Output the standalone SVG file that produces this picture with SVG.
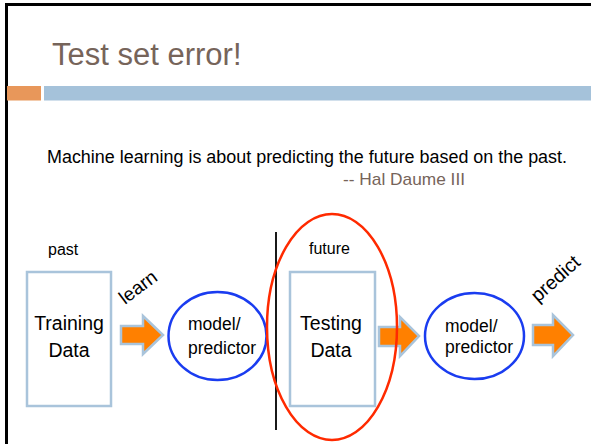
<svg xmlns="http://www.w3.org/2000/svg" width="591" height="444" viewBox="0 0 591 444">
<style>
text{font-family:"Liberation Sans",Arial,sans-serif;fill:#000}
.brown{fill:#76645a}
.box{fill:#fff;stroke:#a9c4db;stroke-width:2.5}
.ell{fill:none;stroke:#1a3cf0;stroke-width:2.5}
.arr{fill:#ff8000;stroke:#a9c4db;stroke-width:2.5;stroke-linejoin:miter}
.lbl{font-size:17.5px}
.big{font-size:19.5px}
.sm{font-size:16px}
</style>
<rect width="591" height="444" fill="#fff"/>
<path d="M6.5,444 V4.5 H591" fill="none" stroke="#000" stroke-width="3"/>
<g id="title">
<text x="52" y="65" class="brown" style="font-size:31px">Test set error!</text>
<rect x="7" y="86" width="34" height="14.5" fill="#e8975a"/>
<rect x="44" y="86" width="547" height="14.5" fill="#a5c2da"/>
</g>
<g id="quote">
<text x="47" y="162.5" style="font-size:17.5px" textLength="520" lengthAdjust="spacingAndGlyphs">Machine learning is about predicting the future based on the past.</text>
<text x="343" y="185" class="brown" style="font-size:17px" textLength="122" lengthAdjust="spacingAndGlyphs">-- Hal Daume III</text>
</g>
<g id="divider"><line x1="276" y1="232" x2="276" y2="430" stroke="#000" stroke-width="1.8"/></g>
<g id="past-label"><text x="48" y="255" class="sm">past</text></g>
<g id="future-label"><text x="309" y="254" class="sm">future</text></g>
<g id="training-data">
<rect x="27" y="272" width="84" height="134" class="box"/>
<text x="69" y="330" class="big" text-anchor="middle">Training</text>
<text x="69" y="357" class="big" text-anchor="middle">Data</text>
</g>
<g id="model1">
<ellipse cx="217.5" cy="336" rx="49" ry="44" class="ell"/>
<text x="188" y="330" class="lbl">model/</text>
<text x="188" y="354" class="lbl">predictor</text>
</g>
<g id="testing-data">
<rect x="290" y="272" width="85" height="134" class="box"/>
<text x="331" y="330" class="big" text-anchor="middle">Testing</text>
<text x="331" y="357" class="big" text-anchor="middle">Data</text>
</g>
<g id="model2">
<ellipse cx="474.5" cy="336" rx="49.5" ry="43" class="ell"/>
<text x="445" y="331.5" class="lbl">model/</text>
<text x="445" y="353" class="lbl">predictor</text>
</g>
<g id="connectors">
<polygon class="arr" points="121,326 143,326 143,316 163,335 143,354 143,344 121,344"/>
<polygon class="arr" points="379,327 400,327 400,317 419,336 400,356 400,346 379,346"/>
<polygon class="arr" points="533,325 553,325 553,315 573,335 553,356 553,345 533,345"/>
<text transform="translate(125,305) rotate(-37)" style="font-size:19px">learn</text>
<text transform="translate(538,303) rotate(-42)" style="font-size:19.5px">predict</text>
</g>
<g id="test-highlight"><ellipse cx="332" cy="327" rx="65" ry="113" fill="none" stroke="#ff2a00" stroke-width="2.5"/></g>
</svg>
